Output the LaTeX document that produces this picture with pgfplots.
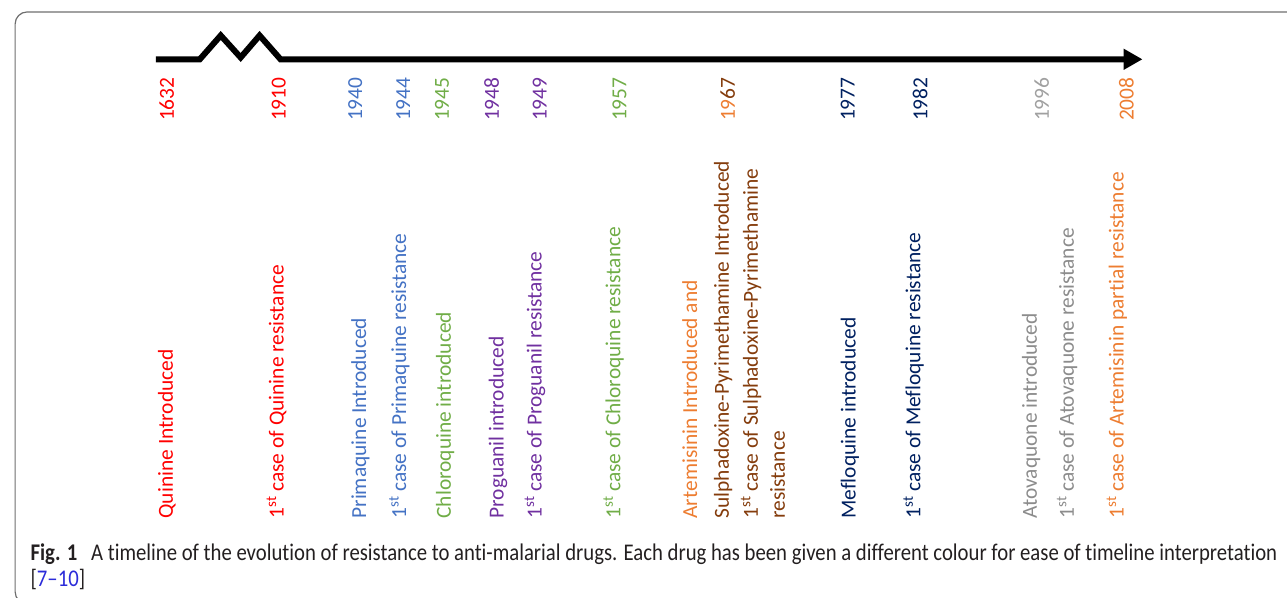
\documentclass[border=0pt]{standalone}
\usepackage{pgfplots}
\pgfplotsset{compat=1.18}
\usepackage{graphicx}
\usepackage{fontspec}
\setmainfont{Carlito}[Ligatures=NoCommon]
\usetikzlibrary{arrows.meta}

\definecolor{qred}{HTML}{FF0000}
\definecolor{pblue}{HTML}{4472C4}
\definecolor{cgreen}{HTML}{70AD47}
\definecolor{ppurple}{HTML}{7030A0}
\definecolor{aorange}{HTML}{ED7D31}
\definecolor{sbrown}{HTML}{843C0C}
\definecolor{mnavy}{HTML}{002060}
\definecolor{agray}{HTML}{8C8C8C}
\definecolor{ygray}{HTML}{A0A0A0}
\definecolor{capblack}{HTML}{231F20}
\definecolor{linkblue}{HTML}{2B2BD9}
\definecolor{framegray}{HTML}{6E6E6E}

\newcommand\labfont{\fontsize{21.5bp}{24bp}\selectfont}
\newcommand\capfont{\fontsize{24bp}{28bp}\selectfont}
% year above the text, text below: baseline x, bottom y
\newcommand\yr[3]{\node[rotate=90,anchor=base west,inner sep=0,text=#2,font=\labfont] at (axis cs:#1-4,121.5) {#3};}
\newcommand\lab[3]{\node[rotate=90,anchor=base west,inner sep=0,text=#2,font=\labfont] at (axis cs:#1-4,520.5) {#3};}
\newcommand\first{1\textsuperscript{st}}

\newlength\capw
\newcommand\capline{\textbf{Fig. 1}\hspace{16bp}A timeline of the evolution of resistance to anti-malarial drugs. Each drug has been given a different colour for ease of timeline interpretation}

\begin{document}
\settowidth\capw{\capfont\capline}
\pgfmathsetmacro\capratio{1255.7pt/\capw}
\begin{tikzpicture}
\begin{axis}[
  name=ax,
  scale only axis,
  width=1287bp, height=600bp,
  xmin=0, xmax=1287, ymin=0, ymax=600,
  y dir=reverse,
  hide axis,
  clip=false
]
% frame round the figure
\draw[framegray, line width=1.2bp, rounded corners=12bp]
  (axis cs:1320,12) -- (axis cs:10.7,12) -- (axis cs:10.7,606) -- (axis cs:1320,606);

% timeline with the break
\addplot[black, line width=6bp, line join=miter, mark=none,
  -{Triangle[length=19bp,width=20bp]}] coordinates {
  (152,59.5) (196,59.5) (217,35.6) (237,57.7) (256,35.6) (277,59.5) (1142,59.5)
};

% years
\yr{174}{qred}{1632}
\yr{286}{qred}{1910}
\yr{363}{pblue}{1940}
\yr{411}{pblue}{1944}
\yr{450}{cgreen}{1945}
\yr{500}{ppurple}{1948}
\yr{548}{ppurple}{1949}
\yr{628}{cgreen}{1957}
\yr{737}{black}{{\color{aorange}19}{\color{sbrown}67}}
\yr{857}{mnavy}{1977}
\yr{930}{mnavy}{1982}
\yr{1052}{ygray}{1996}
\yr{1137}{aorange}{2008}

% events
\lab{173}{qred}{Quinine Introduced}
\lab{284}{qred}{\first{} case of Quinine resistance}
\lab{367}{pblue}{Primaquine Introduced}
\lab{407}{pblue}{\first{} case of Primaquine resistance}
\lab{452}{cgreen}{Chloroquine introduced}
\lab{505}{ppurple}{Proguanil introduced}
\lab{543}{ppurple}{\first{} case of Proguanil resistance}
\lab{622}{cgreen}{\first{} case of Chloroquine resistance}
\lab{699}{aorange}{Artemisinin Introduced and}
\lab{731}{sbrown}{Sulphadoxine-Pyrimethamine Introduced}
\lab{760}{sbrown}{\first{} case of Sulphadoxine-Pyrimethamine}
\lab{787}{sbrown}{resistance}
\lab{858}{mnavy}{Mefloquine introduced}
\lab{923}{mnavy}{\first{} case of Mefloquine resistance}
\lab{1040}{agray}{Atovaquone introduced}
\lab{1077}{agray}{\first{} case of Atovaquone resistance}
\lab{1127}{aorange}{\first{} case of Artemisinin partial resistance}

% caption
\node[anchor=base west,inner sep=0,text=capblack,font=\capfont] at (axis cs:26,562)
  {\scalebox{\capratio}[1]{\capline}};
\node[anchor=base west,inner sep=0,text=capblack,font=\capfont] at (axis cs:26,589)
  {\scalebox{\capratio}[1]{[{\color{linkblue}7--10}]}};
\end{axis}
\pgfresetboundingbox
\path[use as bounding box] (ax.south west) rectangle (ax.north east);
\end{tikzpicture}
\end{document}
